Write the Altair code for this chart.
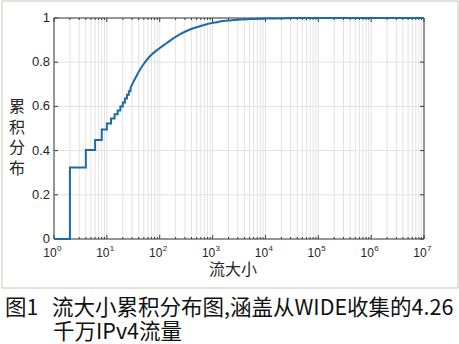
import altair as alt
import pandas as pd

# Empirical CDF of flow sizes: stair-step part for the smallest flows
step_size = [1, 2, 4, 6, 8, 10, 12, 14, 16, 18, 20, 22, 24, 26, 28]
step_cdf = [0.0, 0.324, 0.403, 0.448, 0.496, 0.523, 0.545, 0.564, 0.582,
            0.600, 0.618, 0.636, 0.653, 0.669, 0.684]

# Smooth part of the CDF for larger flows
tail_size = [28, 32, 42, 57, 66, 88, 100, 135, 181, 250, 374, 577, 774,
             1200, 1590, 2140, 3000, 5000, 10000, 30000, 100000, 10000000]
tail_cdf = [0.684, 0.712, 0.765, 0.810, 0.828, 0.854, 0.864, 0.886, 0.908,
            0.928, 0.948, 0.963, 0.972, 0.981, 0.986, 0.989, 0.992, 0.995,
            0.998, 0.9995, 1.0, 1.0]

# Axis tick positions and labels
decades = [1, 10, 100, 1000, 10000, 100000, 1000000, 10000000]
decade_exp = ["0", "1", "2", "3", "4", "5", "6", "7"]
minor_ticks = [k * 10 ** d for d in range(7) for k in range(2, 10)]
y_ticks = [0, 0.2, 0.4, 0.6, 0.8, 1.0]
y_labels = ["0", "0.2", "0.4", "0.6", "0.8", "1"]

x_title = "流大小"
y_title = ["累", "积", "分", "布"]
caption_fig = "图1"
caption_line1 = "流大小累积分布图,涵盖从WIDE收集的4.26"
caption_line2 = "千万IPv4流量"

W, H = 370, 221
INK = "#262626"
BOX = "#3c3c3c"
GRID = "#e2e2e2"
LINE = "#1c6aa6"
CJK = "Noto Sans CJK SC"
NUM = "Liberation Sans"

xs = alt.Scale(type="log", domain=[1, 10000000], nice=False)
ys = alt.Scale(domain=[0, 1], nice=False, zero=False)
X = lambda f: alt.X(f, scale=xs, axis=None)
Y = lambda f: alt.Y(f, scale=ys, axis=None)

step_df = pd.DataFrame({"size": step_size, "cdf": step_cdf})
tail_df = pd.DataFrame({"size": tail_size, "cdf": tail_cdf})
dec_df = pd.DataFrame({"size": decades, "exp": decade_exp})
minor_df = pd.DataFrame({"size": minor_ticks})
xgrid_df = pd.DataFrame({"size": decades + minor_ticks})
yt_df = pd.DataFrame({"v": y_ticks, "lbl": y_labels})
one = pd.DataFrame({"k": [0]})

# outer figure frame
frame = alt.Chart(one).mark_rect(filled=False, stroke="#cbc3bb", strokeWidth=1).encode(
    x=alt.value(-52), x2=alt.value(404), y=alt.value(-17), y2=alt.value(270)
)

# grid lines
xgrid = alt.Chart(xgrid_df).mark_rule(color=GRID, strokeWidth=1).encode(
    x=X("size:Q"), y=alt.value(0), y2=alt.value(H))
ygrid = alt.Chart(yt_df).mark_rule(color=GRID, strokeWidth=1).encode(
    y=Y("v:Q"), x=alt.value(0), x2=alt.value(W))

# plot box
box = alt.Chart(one).mark_rect(filled=False, stroke=BOX, strokeWidth=1).encode(
    x=alt.value(0), x2=alt.value(W), y=alt.value(0), y2=alt.value(H)
)


def xticks(df, y0, y1):
    return alt.Chart(df).mark_rule(color=BOX, strokeWidth=1).encode(
        x=X("size:Q"), y=alt.value(y0), y2=alt.value(y1))


def yticks(x0, x1):
    return alt.Chart(yt_df).mark_rule(color=BOX, strokeWidth=1).encode(
        y=Y("v:Q"), x=alt.value(x0), x2=alt.value(x1))


tick_layers = [
    xticks(dec_df, H, H - 4), xticks(dec_df, 0, 4),
    xticks(minor_df, H, H - 2), xticks(minor_df, 0, 2),
    yticks(0, 4), yticks(W, W - 4),
]

# y tick labels
ylbl = alt.Chart(yt_df).mark_text(
    font=NUM, fontSize=13, color=INK, align="right", baseline="middle"
).encode(y=Y("v:Q"), x=alt.value(-4), text="lbl:N")

# "10" with a raised exponent under each decade
base_lbl = alt.Chart(dec_df).mark_text(
    font=NUM, fontSize=12, color=INK, align="center", baseline="middle", dx=-4
).encode(x=X("size:Q"), y=alt.value(H + 14), text=alt.value("10"))
exp_lbl = alt.Chart(dec_df).mark_text(
    font=NUM, fontSize=8, color=INK, align="left", baseline="middle", dx=3
).encode(x=X("size:Q"), y=alt.value(H + 10), text="exp:N")

xt = alt.Chart(one).mark_text(font=CJK, fontSize=16, color=INK, align="center",
                              baseline="middle").encode(
    x=alt.value(179), y=alt.value(H + 31), text=alt.value(x_title))
yt = alt.Chart(one).mark_text(font=CJK, fontSize=16, color=INK, align="center",
                              baseline="middle", lineHeight=20.7).encode(
    x=alt.value(-37), y=alt.value(89), text=alt.value(y_title))

cap_style = dict(font=CJK, fontSize=21.5, color="#111111", align="left", baseline="middle")
cap0 = alt.Chart(one).mark_text(**cap_style).encode(
    x=alt.value(-49), y=alt.value(291), text=alt.value(caption_fig))
cap1 = alt.Chart(one).mark_text(**cap_style).encode(
    x=alt.value(-2), y=alt.value(291), text=alt.value(caption_line1))
cap2 = alt.Chart(one).mark_text(**cap_style).encode(
    x=alt.value(-1), y=alt.value(315), text=alt.value(caption_line2))

steps = alt.Chart(step_df).mark_line(
    interpolate="step-after", color=LINE, strokeWidth=2
).encode(x=X("size:Q"), y=Y("cdf:Q"))

tail = alt.Chart(tail_df).mark_line(
    interpolate="monotone", color=LINE, strokeWidth=2
).encode(x=X("size:Q"), y=Y("cdf:Q"))

chart = alt.layer(
    frame, xgrid, ygrid, box, *tick_layers, ylbl, base_lbl, exp_lbl, xt, yt,
    cap0, cap1, cap2, tail, steps,
).properties(
    width=W, height=H,
    padding={"left": 54, "top": 18, "right": 35, "bottom": 105},
    autosize=alt.AutoSizeParams(type="none"),
    background="white",
).configure_view(strokeWidth=0)

chart.save("out.html", embed_options={"renderer": "svg", "actions": False})
